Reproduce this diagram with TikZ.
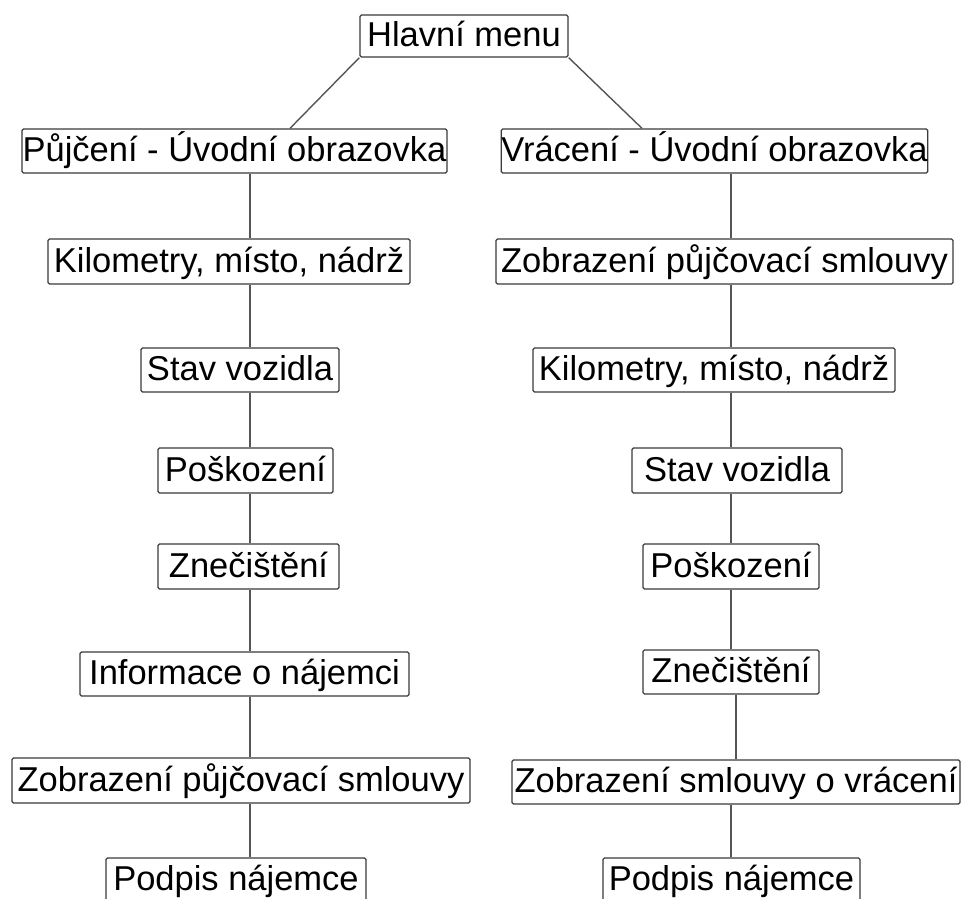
\documentclass[tikz,border=0pt]{standalone}
\usepackage{fontspec}
\setmainfont{Liberation Sans}
\definecolor{boxline}{HTML}{3A3A3A}
\definecolor{conn}{HTML}{555555}
\begin{document}
\begin{tikzpicture}[x=1pt,y=-1pt,
  bx/.style={draw=boxline, line width=1.3pt, rounded corners=1.5pt, inner sep=0pt,
    text height=28pt, text depth=7pt, font=\fontsize{34.5}{40}\selectfont, fill=white},
  cn/.style={draw=conn, line width=1.4pt}]
\useasboundingbox (0,0) rectangle (962,899);
\clip (0,0) rectangle (962,899);
\coordinate (lx) at (250,0);
\coordinate (rx) at (731,0);
\coordinate (rx2) at (736,0);
\coordinate (tl) at (290,0);
\coordinate (tr) at (642,0);

\node[bx, minimum width=208pt, minimum height=42pt] (top) at (464,36) {Hlavní menu};

\node[bx, minimum width=425pt, minimum height=44pt] (L1) at (234.5,151) {Půjčení - Úvodní obrazovka};
\node[bx, minimum width=362pt, minimum height=45pt] (L2) at (229,261.5) {Kilometry, místo, nádrž};
\node[bx, minimum width=198pt, minimum height=44pt] (L3) at (240,370) {Stav vozidla};
\node[bx, minimum width=175pt, minimum height=45pt] (L4) at (245.5,470.5) {Poškození};
\node[bx, minimum width=181pt, minimum height=45pt] (L5) at (248.5,566.5) {Znečištění};
\node[bx, minimum width=329pt, minimum height=44pt] (L6) at (244.5,674) {Informace o nájemci};
\node[bx, minimum width=458pt, minimum height=45pt] (L7) at (241,780.5) {Zobrazení půjčovací smlouvy};
\node[bx, minimum width=260pt, minimum height=44pt] (L8) at (236,880) {Podpis nájemce};

\node[bx, minimum width=425pt, minimum height=44pt] (R1) at (714.5,151) {Vrácení - Úvodní obrazovka};
\node[bx, minimum width=457pt, minimum height=45pt] (R2) at (724.5,261.5) {Zobrazení půjčovací smlouvy};
\node[bx, minimum width=362pt, minimum height=44pt] (R3) at (714,370) {Kilometry, místo, nádrž};
\node[bx, minimum width=210pt, minimum height=45pt] (R4) at (737,470.5) {Stav vozidla\hspace{12pt}};
\node[bx, minimum width=176pt, minimum height=45pt] (R5) at (731,566.5) {Poškození};
\node[bx, minimum width=176pt, minimum height=44pt] (R6) at (731,672) {Znečištění};
\node[bx, minimum width=448pt, minimum height=44pt] (R7) at (736,782) {Zobrazení smlouvy o vrácení};
\node[bx, minimum width=257pt, minimum height=44pt] (R8) at (731.5,880) {Podpis nájemce};

\draw[cn] (top.south west) -- (L1.north -| tl);
\draw[cn] (top.south east) -- (R1.north -| tr);
\draw[cn] (L1.south -| lx) -- (L2.north -| lx);
\draw[cn] (L2.south -| lx) -- (L3.north -| lx);
\draw[cn] (L3.south -| lx) -- (L4.north -| lx);
\draw[cn] (L4.south -| lx) -- (L5.north -| lx);
\draw[cn] (L5.south -| lx) -- (L6.north -| lx);
\draw[cn] (L6.south -| lx) -- (L7.north -| lx);
\draw[cn] (L7.south -| lx) -- (L8.north -| lx);
\draw[cn] (R1.south -| rx) -- (R2.north -| rx);
\draw[cn] (R2.south -| rx) -- (R3.north -| rx);
\draw[cn] (R3.south -| rx) -- (R4.north -| rx);
\draw[cn] (R4.south -| rx) -- (R5.north -| rx);
\draw[cn] (R5.south -| rx) -- (R6.north -| rx);
\draw[cn] (R6.south -| rx2) -- (R7.north -| rx2);
\draw[cn] (R7.south -| rx) -- (R8.north -| rx);
\end{tikzpicture}
\end{document}
